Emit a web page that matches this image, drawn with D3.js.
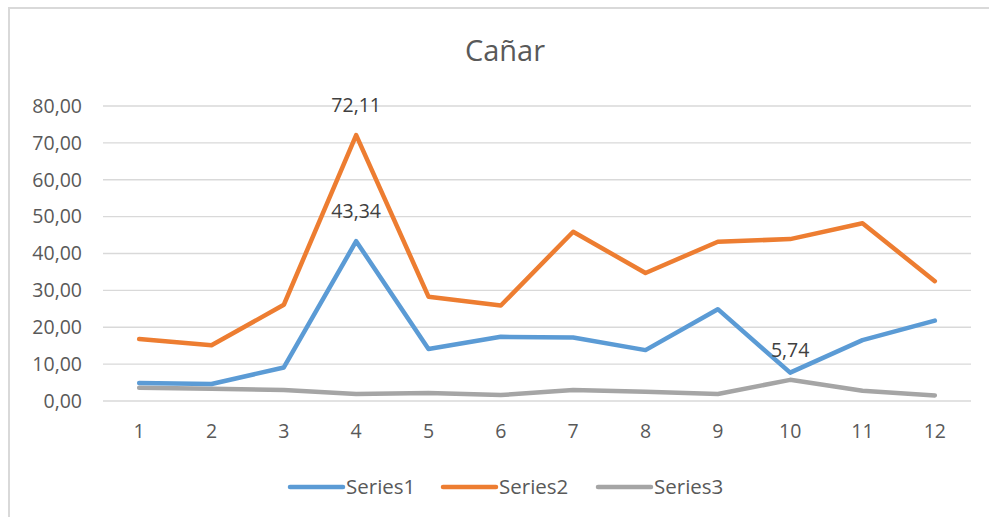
<!DOCTYPE html>
<html><head><meta charset="utf-8">
<script src="https://cdn.jsdelivr.net/npm/d3@7"></script>
<style>body{margin:0;background:#fff;}svg{display:block;font-family:"Open Sans",sans-serif;}</style>
</head><body><svg id="c" width="989" height="517"></svg>
<script>
const categories = ["1","2","3","4","5","6","7","8","9","10","11","12"];
const series1 = [4.9, 4.6, 9.1, 43.34, 14.1, 17.4, 17.2, 13.8, 24.9, 7.7, 16.5, 21.8];
const series2 = [16.8, 15.1, 26.1, 72.11, 28.3, 25.9, 45.9, 34.7, 43.2, 43.9, 48.2, 32.5];
const series3 = [3.6, 3.3, 3.0, 1.9, 2.2, 1.6, 3.0, 2.5, 1.9, 5.74, 2.8, 1.5];
const yTicks = [0,10,20,30,40,50,60,70,80];
const seriesNames = ["Series1","Series2","Series3"];
const colors = ["#5b9bd5","#ed7d31","#a5a5a5"];
const title = "Cañar";
const labels = [{s:0,i:3},{s:1,i:3},{s:2,i:9}];

const svg = d3.select("#c");
const all = [series1, series2, series3];
const fmt = v => d3.format(".2f")(v).replace(".", ",");

// chart border
svg.append("rect").attr("x",9).attr("y",8).attr("width",1000).attr("height",600)
  .attr("fill","none").attr("stroke","#d9d9d9").attr("stroke-width",2);

const x = d3.scaleBand().domain(categories).range([103, 971]);
const y = d3.scaleLinear().domain([0, 80]).range([401, 106]);

// gridlines
svg.append("g").selectAll("line").data(yTicks).join("line")
  .attr("x1",103).attr("x2",971).attr("y1",d=>y(d)).attr("y2",d=>y(d))
  .attr("stroke","#d9d9d9").attr("stroke-width",1.3);

// y axis
const ya = svg.append("g").attr("transform","translate(103,0)")
  .call(d3.axisLeft(y).tickValues(yTicks).tickFormat(fmt).tickSize(0).tickPadding(21));
ya.select(".domain").remove();
ya.selectAll("text").attr("fill","#595959").style("font-size","19.5px").style("font-family","'Open Sans',sans-serif");

// x axis
const xa = svg.append("g").attr("transform","translate(0,401)")
  .call(d3.axisBottom(x).tickSize(0).tickPadding(23));
xa.select(".domain").remove();
xa.selectAll("text").attr("fill","#595959").style("font-size","19.5px").style("font-family","'Open Sans',sans-serif");

// title
svg.append("text").attr("x",505).attr("y",61).attr("text-anchor","middle")
  .attr("fill","#595959").style("font-size","29px").text(title);

// lines
const line = d3.line().x((d,i)=>x(categories[i])+x.bandwidth()/2).y(d=>y(d));
svg.append("g").selectAll("path").data(all.slice().reverse()).join("path")
  .attr("d", d=>line(d)).attr("fill","none")
  .attr("stroke",(d,i)=>colors[2-i]).attr("stroke-width",4.5)
  .attr("stroke-linejoin","round").attr("stroke-linecap","round");

// data labels
svg.append("g").selectAll("text").data(labels).join("text")
  .attr("x",d=>x(categories[d.i])+x.bandwidth()/2)
  .attr("y",d=>y(all[d.s][d.i])-23)
  .attr("text-anchor","middle").attr("fill","#404040").style("font-size","19.5px")
  .text(d=>fmt(all[d.s][d.i]));

// legend
const lg = svg.append("g");
const lx = [290, 443, 598];
seriesNames.forEach((n,i)=>{
  lg.append("line").attr("x1",lx[i]).attr("x2",lx[i]+53).attr("y1",487).attr("y2",487)
    .attr("stroke",colors[i]).attr("stroke-width",4.5).attr("stroke-linecap","round");
  lg.append("text").attr("x",lx[i]+56).attr("y",494).attr("fill","#595959")
    .style("font-size","20.5px").text(n);
});
</script></body></html>
